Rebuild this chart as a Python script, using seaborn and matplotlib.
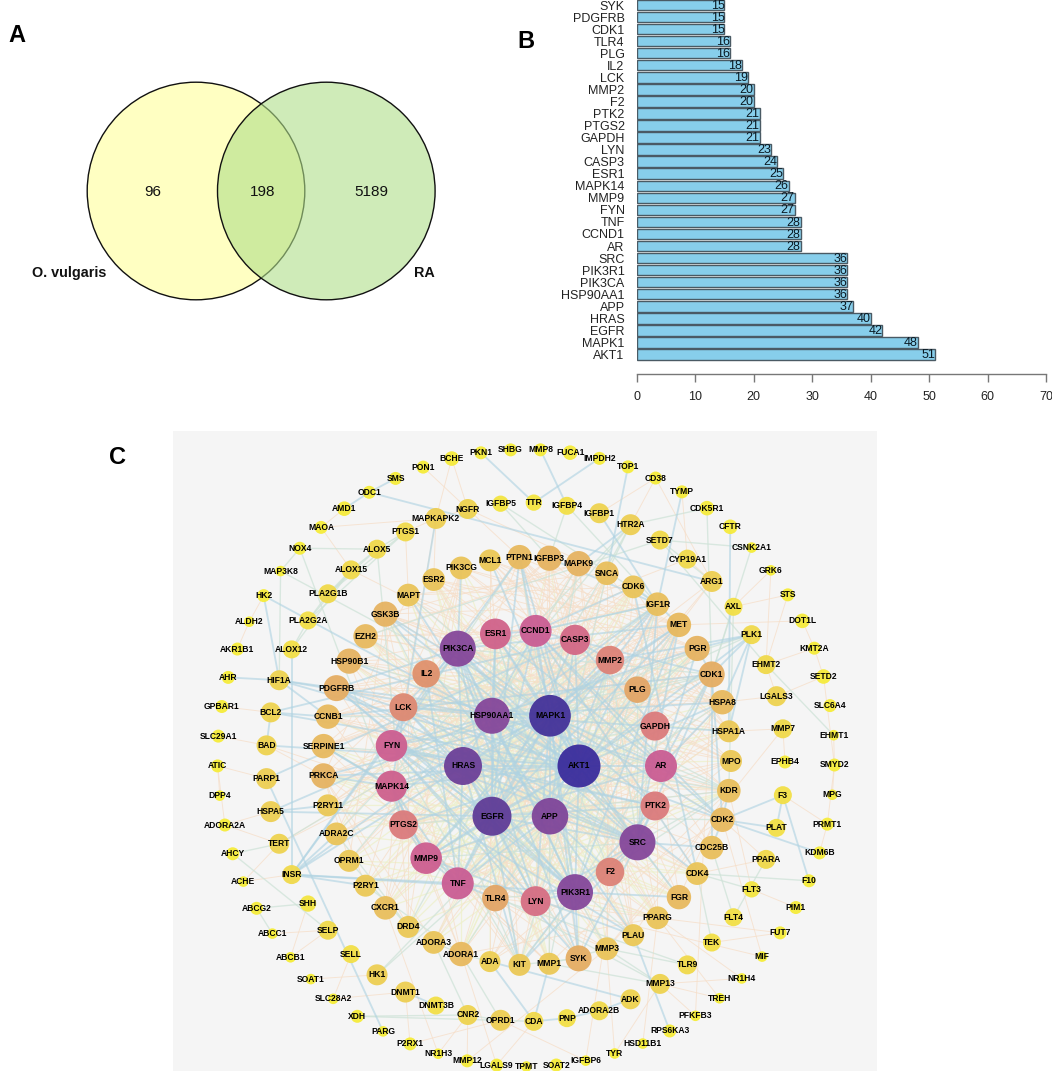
import matplotlib
matplotlib.use("Agg")
import numpy as np
import pandas as pd
import seaborn as sns
import matplotlib.pyplot as plt
from matplotlib.patches import Circle, Rectangle
from matplotlib.collections import LineCollection
from matplotlib.colors import LinearSegmentedColormap, to_hex

# ---------- panel A ----------
venn_counts = ["96", "198", "5189"]
venn_names = ["O. vulgaris", "RA"]

# ---------- panel B ----------
bar_genes = ["SYK", "PDGFRB", "CDK1", "TLR4", "PLG", "IL2", "LCK", "MMP2", "F2", "PTK2",
             "PTGS2", "GAPDH", "LYN", "CASP3", "ESR1", "MAPK14", "MMP9", "FYN", "TNF", "CCND1",
             "AR", "SRC", "PIK3R1", "PIK3CA", "HSP90AA1", "APP", "HRAS", "EGFR", "MAPK1", "AKT1"]
bar_values = [15, 15, 15, 16, 16, 18, 19, 20, 20, 21, 21, 21, 23, 24, 25, 26, 27, 27, 28, 28,
              28, 36, 36, 36, 36, 37, 40, 42, 48, 51]
bar_ticks = [0, 10, 20, 30, 40, 50, 60, 70]

# ---------- panel C: concentric rings, listed clockwise from 3 o'clock ----------
ring1 = ["AKT1", "APP", "EGFR", "HRAS", "HSP90AA1", "MAPK1"]
deg1 = [51, 37, 42, 40, 36, 48]
ring2 = ["AR", "PTK2", "SRC", "F2", "PIK3R1", "LYN", "TLR4", "TNF", "MMP9", "PTGS2", "MAPK14",
         "FYN", "LCK", "IL2", "PIK3CA", "ESR1", "CCND1", "CASP3", "MMP2", "PLG", "GAPDH"]
deg2 = [28, 21, 36, 20, 36, 23, 16, 28, 27, 21, 26, 27, 19, 18, 36, 25, 28, 24, 20, 16, 21]
ring3 = ["MPO", "KDR", "CDK2", "CDC25B", "CDK4", "FGR", "PPARG", "PLAU", "MMP3", "SYK", "MMP1",
         "KIT", "ADA", "ADORA1", "ADORA3", "DRD4", "CXCR1", "P2RY1", "OPRM1", "ADRA2C", "P2RY11",
         "PRKCA", "SERPINE1", "CCNB1", "PDGFRB", "HSP90B1", "EZH2", "GSK3B", "MAPT", "ESR2",
         "PIK3CG", "MCL1", "PTPN1", "IGFBP3", "MAPK9", "SNCA", "CDK6", "IGF1R", "MET", "PGR",
         "CDK1", "HSPA8", "HSPA1A"]
deg3 = [10, 12, 13, 12, 11, 13, 11, 10, 11, 15, 10, 10, 9, 13, 11, 10, 12, 10, 10, 11, 10,
        14, 13, 13, 15, 14, 13, 14, 11, 11, 11, 10, 13, 14, 14, 12, 11, 12, 13, 14, 15, 13, 10]
ring4 = ["EPHB4", "F3", "PLAT", "PPARA", "FLT3", "FLT4", "TEK", "TLR9", "MMP13", "ADK", "ADORA2B",
         "PNP", "CDA", "OPRD1", "CNR2", "DNMT3B", "DNMT1", "HK1", "SELL", "SELP", "SHH", "INSR",
         "TERT", "HSPA5", "PARP1", "BAD", "BCL2", "HIF1A", "ALOX12", "PLA2G2A", "PLA2G1B",
         "ALOX15", "ALOX5", "PTGS1", "MAPKAPK2", "NGFR", "IGFBP5", "TTR", "IGFBP4", "IGFBP1",
         "HTR2A", "SETD7", "CYP19A1", "ARG1", "AXL", "PLK1", "EHMT2", "LGALS3", "MMP7"]
deg4 = [3, 6, 6, 7, 5, 6, 6, 7, 8, 8, 7, 6, 7, 9, 8, 6, 9, 9, 6, 7, 5, 7, 8, 9, 9, 8, 8, 8, 6, 6,
        7, 7, 7, 7, 9, 8, 5, 5, 6, 8, 9, 7, 7, 9, 6, 7, 7, 8, 7]
ring5 = ["SMYD2", "MPG", "PRMT1", "KDM6B", "F10", "PIM1", "FUT7", "MIF", "NR1H4", "TREH", "PFKFB3",
         "RPS6KA3", "HSD11B1", "TYR", "IGFBP6", "SOAT2", "TPMT", "LGALS9", "MMP12", "NR1H3", "P2RX1",
         "PARG", "XDH", "SLC28A2", "SOAT1", "ABCB1", "ABCC1", "ABCG2", "ACHE", "AHCY", "ADORA2A",
         "DPP4", "ATIC", "SLC29A1", "GPBAR1", "AHR", "AKR1B1", "ALDH2", "HK2", "MAP3K8", "NOX4",
         "MAOA", "AMD1", "ODC1", "SMS", "PON1", "BCHE", "PKN1", "SHBG", "MMP8", "FUCA1", "IMPDH2",
         "TOP1", "CD38", "TYMP", "CDK5R1", "CFTR", "CSNK2A1", "GRK6", "STS", "DOT1L", "KMT2A",
         "SETD2", "SLC6A4", "EHMT1"]
deg5 = [3, 2, 3, 3, 3, 3, 3, 2, 2, 2, 2, 3, 2, 2, 2, 3, 2, 3, 3, 2, 3, 2, 3, 2, 2, 2, 2, 3, 2, 3, 3,
        2, 3, 3, 3, 3, 3, 2, 3, 2, 3, 3, 4, 3, 3, 3, 4, 3, 3, 3, 4, 3, 3, 3, 3, 4, 4, 2, 2, 3, 4, 3,
        4, 3, 2]

# edges as read (and, in the dense centre, estimated) from the picture
strong_edges = {
    "AKT1": "MAPK1 EGFR HRAS SRC PIK3R1 PIK3CA HSP90AA1 TNF MMP9 CCND1 CASP3 ESR1 GSK3B MAPK14 PDGFRB IGF1R BCL2 HIF1A MCL1 PTPN1 PRKCA CDK1 HSPA8 PTGS2 AR PLK1 CDK2 BAD HK2",
    "MAPK1": "EGFR HRAS SRC PIK3R1 PIK3CA APP TNF MMP9 MMP2 CCND1 MAPK14 ESR1 FYN LCK LYN SYK PTK2 GSK3B PRKCA CDK2 MET PDGFRB PTPN1 IGF1R AR",
    "EGFR": "HRAS SRC PIK3R1 PIK3CA HSP90AA1 PTK2 FYN LYN CCND1 MET PDGFRB KIT PTPN1 ESR1 AR IGF1R MMP9 HSPA5",
    "HRAS": "PIK3CA PIK3R1 SRC FYN LCK LYN PTK2 MAPK14 PDGFRB INSR CCND1 KIT MET TNF",
    "APP": "GSK3B CASP3 PLG F2 TNF MMP2 MMP9 MAPT PLAU SRC",
    "HSP90AA1": "SRC PIK3CA PIK3R1 AR ESR1 FYN LCK HSPA8 HSPA1A CDK4 HSP90B1 HIF1A HSPA5 PGR",
    "PIK3CA": "PIK3R1 SRC FYN LYN LCK SYK PDGFRB INSR PIK3CG MET",
    "PIK3R1": "SRC FYN LYN LCK SYK PDGFRB INSR KIT MET PTK2 FGR",
    "SRC": "FYN LYN LCK PTK2 SYK FGR MET KIT PDGFRB IGF1R CDK1 CDC25B",
    "AR": "ESR1 CCND1 CDK1 CDK2 HSPA8 PGR",
    "CCND1": "CDK4 CDK6 CDK2 CDK1 IGF1R ESR1",
    "TNF": "MMP9 MAPK14 CASP3 PTGS2 TLR4 IL2 INSR",
    "MMP9": "MMP2 PTGS2 MAPK14 PLAU",
    "FYN": "LCK LYN PTK2 SYK",
    "MAPK14": "MMP9 PRKCA MAPKAPK2 PTGS2 SERPINE1",
    "CASP3": "PARP1 BCL2 MMP2 GAPDH",
    "IGF1R": "IGFBP3 IGFBP1 INSR TYMP CDK6 MET",
    "CDK1": "CCNB1 PLK1 CDC25B CDK2 PGR",
    "PLK1": "HSPA8 HSPA1A MMP2 PGR",
    "HIF1A": "AHR PDGFRB HK2 CCNB1",
    "ODC1": "AMD1 SMS ARG1",
    "PARP1": "PARG",
    "F3": "F10 CDK2 PLAT",
    "CDK2": "KDM6B KDR PLAT CDC25B",
    "ADK": "ADA ADORA2B",
    "ADORA2B": "PNP",
    "PNP": "CDA",
    "CDA": "MMP1 ADA",
    "PLAU": "RPS6KA3 SERPINE1",
    "INSR": "ADRA2C P2RY1 PTPN1",
    "ALOX12": "INSR",
    "HSPA5": "P2RY11",
    "CFTR": "HSPA1A",
    "PKN1": "TTR",
    "TOP1": "SNCA",
    "MMP8": "IGFBP4",
    "IMPDH2": "TTR",
    "DNMT1": "DNMT3B",
    "BCL2": "CCNB1 BAD",
    "HTR2A": "MAPK9",
    "CDK6": "CDK4",
}
mid_edges = {
    "AKT1": "SERPINE1 EZH2 PGR KDR MET MMP2 KIT APP FYN",
    "MAPK1": "PLAU CDK1 CCNB1 HSP90B1 KDR PGR MAPK9 MAPT",
    "EGFR": "PLAU SYK MMP2 CDK2 TNF PTGS2 KDR",
    "HRAS": "PLK1 CDK1 GSK3B IGF1R GAPDH",
    "APP": "MMP1 ADORA1 ESR1 SNCA EGFR HSPA8",
    "HSP90AA1": "IGF1R CDK1 PLK1 KDR MAPK9 TERT",
    "PIK3CA": "KDR IGF1R CDK1 PTPN1 ESR1",
    "PIK3R1": "KDR IGF1R PTPN1 CDK1 ESR1 MMP3 TLR4",
    "SRC": "MMP2 MMP9 KDR GAPDH PLG",
    "ALOX5": "PTGS1 ALOX15 PLA2G1B PTGS2",
    "ALOX15": "PLA2G1B PLA2G2A ALOX12",
    "PLA2G1B": "PLA2G2A PTGS1",
    "PLA2G2A": "ALOX12 PTGS1",
    "AHCY": "SELP TERT",
    "ABCG2": "SHH ABCC1",
    "EHMT2": "EHMT1 SETD7",
    "XDH": "CDA CNR2",
    "CDK4": "F10 TEK FLT3",
    "FLT4": "PPARA CDC25B",
    "NOX4": "PTGS2 ALOX5",
    "MAP3K8": "NOX4 HIF1A MAPK1",
    "CDK5R1": "HTR2A CDK1",
    "CSNK2A1": "SETD7 CDK1",
    "HTR2A": "SNCA OPRM1 ADRA2C",
    "IGFBP5": "IGFBP3 IGF1R",
    "IGFBP4": "IGFBP3 IGF1R",
    "MMP13": "MMP3 MMP1 MMP9",
    "HK1": "GAPDH AKT1",
    "ADORA1": "ADORA3 ADA OPRD1 P2RY1",
    "CNR2": "OPRD1 ADORA3",
    "DRD4": "OPRM1 ADRA2C HTR2A",
    "MMP1": "MMP3 MMP2",
    "KIT": "SYK LCK FYN",
    "TLR9": "TLR4 MMP3",
    "AXL": "KDR CDK1",
    "SETD7": "EZH2 ARG1",
}
weak_edges = {
    "MPO": "ALOX15 PTGS2 TNF GAPDH MMP9 ADA",
    "KDR": "FGR PDGFRB PRKCA PTGS2 PLAU SERPINE1 MMP1 CCNB1",
    "CDK2": "CCNB1 MMP3 GSK3B ADA",
    "CDC25B": "CCNB1 PTPN1 MAPT",
    "CDK4": "EZH2 CCNB1 MCL1 HSP90B1",
    "FGR": "LCK PTPN1 HSP90B1 EZH2",
    "PPARG": "ESR2 PTGS2 MMP2 MMP9 ESR1 ADORA1 PTPN1 PDGFRB",
    "PLAU": "GSK3B ESR2 MMP2 IL2 IGFBP3",
    "MMP3": "MMP2 TNF IL2 PTGS2 SNCA MAPT",
    "SYK": "PRKCA PTPN1 MET HSP90B1 IL2",
    "MMP1": "TNF IL2 SERPINE1 IGFBP3 PTGS2",
    "KIT": "PDGFRB CCNB1 SNCA MCL1",
    "ADA": "MCL1 MAPK9 PGR",
    "ADORA1": "MAPK9 PGR GSK3B MAPK14 HSP90B1",
    "ADORA3": "MET CDK6 PRKCA SNCA",
    "DRD4": "MAPT GSK3B PRKCA PIK3CG",
    "CXCR1": "PIK3CG LCK PTPN1 MAPK9 MET",
    "P2RY1": "IGF1R PRKCA PIK3CG MAPK9",
    "OPRM1": "PRKCA GSK3B CDK6 SNCA",
    "ADRA2C": "PIK3CG PGR MAPK9 CDK1",
    "P2RY11": "PTPN1 MET CDK6 CASP3",
    "PRKCA": "MAPT PGR IGFBP3 MET GAPDH",
    "SERPINE1": "MMP2 MET IGFBP3 PGR CASP3",
    "CCNB1": "PGR CDK6 MET HSPA8 MMP2",
    "PDGFRB": "MET PLG MMP2 HSPA8 MPO",
    "HSP90B1": "HSPA8 HSPA1A PGR MPO IGF1R",
    "EZH2": "MAPK9 MET PLG HSPA8 ESR1",
    "GSK3B": "MAPK9 IGF1R MPO PLG HSPA1A GAPDH",
    "MAPT": "SNCA CDK6 HSPA8 GAPDH",
    "ESR2": "PGR HSPA8 MET AR KDR",
    "PIK3CG": "PGR MPO KDR MET",
    "MCL1": "HSPA8 MET GAPDH CASP3 PGR",
    "PTPN1": "HSPA1A MPO MET PLG",
    "IGFBP3": "HSPA1A TLR4 CASP3 LYN",
    "MAPK9": "PLAU F2 LYN TLR4",
    "SNCA": "PLG HSPA1A TLR4 MMP9",
    "CDK6": "HSPA1A FGR F2",
    "IGF1R": "PPARG TLR4 LYN",
    "MET": "TLR4 F2 PTGS2 ADA",
    "PGR": "TLR4 PTGS2 LYN",
    "CDK1": "TLR4 LCK",
    "HSPA8": "F2 TNF LYN",
    "HSPA1A": "TNF TLR4 PTGS2",
    "BCHE": "NGFR MAPKAPK2",
    "MAOA": "ALOX15 AMD1 MAPKAPK2",
    "PON1": "NGFR",
    "CD38": "ARG1 IGFBP1 HTR2A",
    "GRK6": "AXL EHMT2",
    "STS": "EHMT2 AXL",
    "DOT1L": "MET KMT2A",
    "KMT2A": "EHMT2 SETD2",
    "SETD2": "SMYD2 LGALS3",
    "SMYD2": "PRMT1 EHMT1",
    "PRMT1": "KDM6B F3",
    "MPG": "SMYD2",
    "LGALS3": "HSPA8 EHMT2",
    "MMP7": "MMP3 HSPA1A EPHB4",
    "PPARA": "CDK4 CDK2",
    "FLT3": "PIM1 KDR",
    "FUT7": "TEK TLR4",
    "MIF": "CDK2 TNF",
    "NR1H4": "PPARG MMP13",
    "TREH": "MMP13 PPARG",
    "PFKFB3": "MMP13 CDK1",
    "HSD11B1": "PPARG",
    "TYR": "MMP3 MMP13",
    "IGFBP6": "OPRD1 IGF1R",
    "LGALS9": "ADORA1 CDA",
    "MMP12": "CNR2 MMP3",
    "NR1H3": "CXCR1 CNR2",
    "P2RX1": "DNMT1 OPRD1",
    "SLC28A2": "DNMT1 SELL",
    "SOAT1": "HK1",
    "ABCB1": "SELP SHH",
    "ABCC1": "SELP",
    "ACHE": "INSR TERT",
    "ADORA2A": "TERT HSPA5",
    "DPP4": "ATIC",
    "ATIC": "ADORA2A PARP1",
    "SLC29A1": "BAD",
    "GPBAR1": "BCL2",
    "AKR1B1": "ALDH2",
    "ALDH2": "HK2",
    "TERT": "HSP90AA1 MAPK14",
    "BAD": "MAPK14 PRKCA",
    "CYP19A1": "ESR1 ARG1 TYMP",
    "ARG1": "TNF MMP2 MET",
    "NGFR": "PTPN1 MAPKAPK2 SNCA",
    "MAPKAPK2": "PTGS1 ESR2 LCK",
    "PTGS1": "MAPT",
}
faint_edges = {
    "AKT1": "SYK FGR CDK6 IGFBP3 MMP3 ADORA1 PPARG",
    "MAPK1": "DRD4 ADORA3 CXCR1 OPRM1 P2RY1 HSPA1A MMP1",
    "EGFR": "ESR2 MAPT SNCA PGR CDK6 IGFBP3",
    "HRAS": "MPO KDR HSPA8 PGR MMP3 CDK4",
    "APP": "PRKCA SERPINE1 CCNB1 EZH2 PIK3CG",
    "HSP90AA1": "FGR PPARG ADA DRD4 MMP1 MMP3",
    "PIK3CA": "PPARG PLAU HSPA8 KIT ADRA2C",
    "PIK3R1": "EZH2 PRKCA SERPINE1 GSK3B ESR2",
    "SRC": "ESR2 EZH2 HSP90B1 PIK3CG CCNB1 MAPT",
    "AR": "TNF PTGS2 LCK IL2 P2RY1 ADRA2C",
    "PTK2": "TNF PTGS2 MMP9 IL2 PRKCA P2RY11",
    "F2": "IL2 LCK ESR1 CCND1 ESR2",
    "LYN": "ESR1 CCND1 IL2 CASP3 MMP2",
    "TLR4": "ESR1 CCND1 CASP3 PLG GAPDH",
    "TNF": "GAPDH PLG ESR1 CCND1",
    "MMP9": "PLG GAPDH CCND1 ESR1",
    "PTGS2": "CCND1 CASP3 PLG AR GAPDH",
    "MAPK14": "CCND1 CASP3 GAPDH",
    "FYN": "CASP3 PLG GAPDH MMP2",
    "LCK": "GAPDH PLG MMP2 CASP3",
    "IL2": "PLG GAPDH CCND1",
    "ESR1": "GAPDH PLG",
    "CASP3": "F2 PLG",
    "ADORA1": "PIK3CG SNCA CDK6",
    "KIT": "IGF1R MET HSPA8",
    "MMP1": "GSK3B MAPT ESR2",
    "FGR": "SERPINE1 P2RY11 PRKCA",
    "PPARG": "P2RY11 OPRM1 HSP90B1",
    "CDK4": "OPRM1 ADRA2C PRKCA",
    "KDR": "P2RY1 CXCR1 DRD4",
    "HSPA1A": "P2RY11 OPRM1 ADORA3",
    "PGR": "CXCR1 DRD4 ADORA3",
    "CDK6": "CXCR1 ADORA1 P2RY1",
}
STRONG = ("#AFD3E2", 1.35, 0.62)
MID = ("#CFE3D8", 1.0, 0.75)
WEAK = ("#F6DEC8", 0.7, 0.75)
FAINT = ("#EEF0CC", 0.9, 0.8)

radius_deg = [1, 2, 3, 4, 6, 8, 10, 15, 21, 28, 36, 42, 51]
radius_px = [4, 5.3, 6.5, 7.3, 9, 10, 11, 13, 14.5, 16, 18, 19.5, 21.5]
deg_anchors = [1, 4, 8, 12, 15, 18, 21, 25, 28, 36, 42, 48, 51]
col_anchors = ["#F6EE35", "#F5EB3C", "#EED250", "#E9BF5C", "#E5AD63", "#E0916C", "#DB7B7C",
               "#D0618A", "#CB5D93", "#86479A", "#5F3C97", "#443299", "#3A2C9C"]

sns.set_theme(style="white")
plt.rcParams["font.family"] = ["Liberation Sans", "DejaVu Sans"]

W, H = 1052, 1071
fig = plt.figure(figsize=(W / 100, H / 100), dpi=100, facecolor="white")

canvas = fig.add_axes([0, 0, 1, 1])
canvas.set_xlim(0, W)
canvas.set_ylim(H, 0)
canvas.axis("off")

# panel letters
for letter, lx, ly in [("A", 17, 35), ("B", 526, 42), ("C", 117, 458)]:
    canvas.text(lx, ly, letter, fontsize=17, fontweight="bold", ha="center", va="center", color="black")

# ---------- Venn ----------
canvas.add_patch(Circle((196, 191), 108.8, facecolor="#FFFFC2", edgecolor="#111111", lw=1.0))
canvas.add_patch(Circle((326.3, 191), 108.8, facecolor=(175 / 255, 222 / 255, 137 / 255, 0.6),
                        edgecolor="#111111", lw=1.0))
for txt, tx in zip(venn_counts, [153, 263, 371]):
    canvas.text(tx, 192, txt, fontsize=11, ha="center", va="center", color="#111111")
canvas.text(32, 273, venn_names[0], fontsize=10.4, fontweight="bold", ha="left", va="center", color="#111111")
canvas.text(435, 273, venn_names[1], fontsize=10.4, fontweight="bold", ha="right", va="center", color="#111111")

# ---------- network ----------
canvas.add_patch(Rectangle((173, 431), 704, 640, facecolor="#F5F5F5", edgecolor="none", zorder=0))

layout = [(ring1, deg1, 521, 766, 58, 0.0),
          (ring2, deg2, 525.5, 766, 135.5, 0.0),
          (ring3, deg3, 527, 761, 204, 0.0),
          (ring4, deg4, 525.5, 762, 259.5, 0.0),
          (ring5, deg5, 526, 758, 308.5, 1.3)]
rows = []
for names, degs, cx, cy, rad, start in layout:
    n = len(names)
    for i, (nm, d) in enumerate(zip(names, degs)):
        a = np.deg2rad(start + 360.0 * i / n)
        rows.append((nm, d, cx + rad * np.cos(a), cy + rad * np.sin(a)))
nodes = pd.DataFrame(rows, columns=["gene", "degree", "x", "y"])
pos = {g: (x, y) for g, x, y in zip(nodes.gene, nodes.x, nodes.y)}

for table, (col, lw, alpha), z in [(faint_edges, FAINT, 1), (weak_edges, WEAK, 1.5),
                                   (mid_edges, MID, 2), (strong_edges, STRONG, 3)]:
    segs = []
    for src, dst in table.items():
        for t in dst.split():
            if src in pos and t in pos:
                segs.append([pos[src], pos[t]])
            else:
                print("missing", src, t)
    canvas.add_collection(LineCollection(segs, colors=col, linewidths=lw, alpha=alpha, zorder=z))

cmap = LinearSegmentedColormap.from_list(
    "deg", [((d - 1) / 50, c) for d, c in zip(deg_anchors, col_anchors)])
levels = sorted(nodes.degree.unique())
palette = {d: to_hex(cmap((d - 1) / 50)) for d in levels}
sizes = {d: (1.44 * np.interp(d, radius_deg, radius_px)) ** 2 for d in levels}
sns.scatterplot(data=nodes, x="x", y="y", hue="degree", size="degree", palette=palette, sizes=sizes,
                linewidth=0, alpha=0.95, legend=False, ax=canvas, zorder=5)
canvas.set_xlim(0, W)
canvas.set_ylim(H, 0)
canvas.set_xlabel("")
canvas.set_ylabel("")
for g, x, y in zip(nodes.gene, nodes.x, nodes.y):
    canvas.text(x, y, g, fontsize=6.15, fontweight="bold", ha="center", va="center", color="black", zorder=6)

# ---------- bar chart ----------
ax = fig.add_axes([636.7 / W, 1 - 374 / H, 409.5 / W, 374 / H], facecolor="none")
bars = pd.DataFrame({"gene": bar_genes, "value": bar_values})
sns.barplot(data=bars, x="value", y="gene", order=bar_genes, orient="h", color="#87CEEB", saturation=1,
            edgecolor="#4A5A64", linewidth=1.0, width=0.87, ax=ax)
ax.set_xlim(0, 70)
ax.set_ylim(30.62, -0.415)
ax.set_xlabel("")
ax.set_ylabel("")
ax.set_xticks(bar_ticks)
ax.set_xticklabels([str(t) for t in bar_ticks], fontsize=9, color="#222222")
ax.tick_params(axis="x", bottom=True, length=5.4, width=1, color="#777777", pad=7)
ax.tick_params(axis="y", left=False, length=0, pad=8.7, labelsize=9, labelcolor="#222222")
for s in ["top", "left", "right"]:
    ax.spines[s].set_visible(False)
ax.spines["bottom"].set_color("#777777")
ax.spines["bottom"].set_linewidth(1)
for i, v in enumerate(bar_values):
    ax.text(v, i + 0.05, str(v), ha="right", va="center", fontsize=9, color="#0A1A24")

fig.savefig("out.png", dpi=100, facecolor="white")
